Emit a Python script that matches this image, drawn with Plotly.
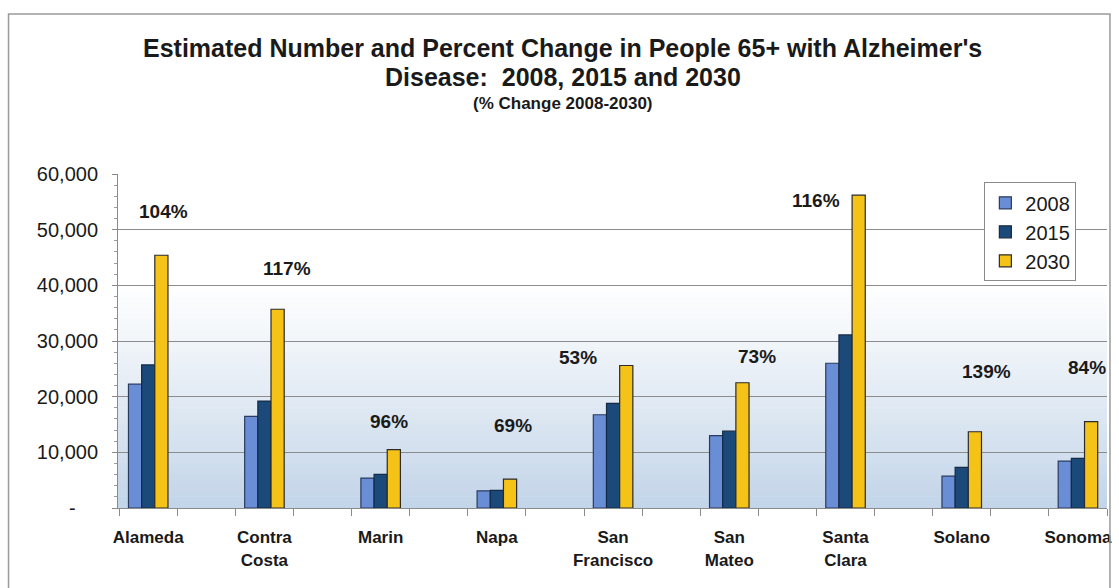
import plotly.graph_objects as go

# County data: estimated people 65+ with Alzheimer's disease
counties = ["Alameda", "Contra<br>Costa", "Marin", "Napa", "San<br>Francisco",
            "San<br>Mateo", "Santa<br>Clara", "Solano", "Sonoma"]
years = ["2008", "2015", "2030"]
cases_2008 = [22250, 16450, 5360, 3080, 16750, 13000, 26000, 5730, 8420]
cases_2015 = [25700, 19200, 6050, 3150, 18800, 13800, 31100, 7300, 8900]
cases_2030 = [45400, 35700, 10500, 5200, 25600, 22500, 56200, 13700, 15500]
pct_change = ["104%", "117%", "96%", "69%", "53%", "73%", "116%", "139%", "84%"]

y_ticks = [0, 10000, 20000, 30000, 40000, 50000, 60000]
y_tick_text = ["-\u00a0\u00a0\u00a0\u00a0", "10,000", "20,000", "30,000",
               "40,000", "50,000", "60,000"]

# where each percent label sits (category units, count units)
label_x = [0.13, 1.19, 2.07, 3.14, 3.70, 5.24, 5.75, 7.21, 8.08]
label_y = [53300, 43000, 15600, 14900, 27000, 27300, 55300, 24600, 25300]

xpos = list(range(len(counties)))
font_family = "Liberation Sans, Arial, sans-serif"

fig = go.Figure()
series = [cases_2008, cases_2015, cases_2030]
colors = ["#6a8ed6", "#1b4a7a", "#f5c218"]
line_colors = ["#2a3a60", "#142a45", "#2b2b2b"]
for name, vals, col, lc in zip(years, series, colors, line_colors):
    fig.add_trace(go.Bar(
        x=xpos, y=vals, name=name,
        marker=dict(color=col, line=dict(color=lc, width=1.2)),
        hoverinfo="x+y",
    ))

# soft vertical gradient behind the plot area (white top, pale blue bottom)
n_strips = 60
top_rgb = (255, 255, 255)
bot_rgb = (194, 212, 232)
for i in range(n_strips):
    y0 = i / n_strips
    y1 = (i + 1) / n_strips
    mid = (y0 + y1) / 2
    # stays white in the top third, then fades to blue
    t = max(0.0, (0.68 - mid) / 0.68)
    t = t ** 1.1
    rgb = tuple(int(round(top_rgb[k] + (bot_rgb[k] - top_rgb[k]) * t)) for k in range(3))
    fig.add_shape(type="rect", xref="x domain", yref="y domain",
                  x0=0, x1=1, y0=y0, y1=y1 + 0.002, layer="below",
                  line=dict(width=0), fillcolor="rgb(%d,%d,%d)" % rgb)

# outer chart frame
fig.add_shape(type="rect", xref="paper", yref="paper",
              x0=-0.1107, x1=1.003, y0=-0.3, y1=1.479,
              line=dict(color="#9a9a9a", width=1.5), fillcolor="rgba(0,0,0,0)")

for tx, ty, txt in zip(label_x, label_y, pct_change):
    fig.add_annotation(x=tx, y=ty, text="<b>%s</b>" % txt, showarrow=False,
                       font=dict(family=font_family, size=19, color="#1a1a1a"))

# titles
title_font = dict(family=font_family, size=25, color="#1a1a1a")
fig.add_annotation(xref="paper", yref="paper", x=0.4497, y=1.377, yanchor="middle",
                   text="<b>Estimated Number and Percent Change in People 65+ with Alzheimer's</b>",
                   showarrow=False, font=title_font)
fig.add_annotation(xref="paper", yref="paper", x=0.4497, y=1.290, yanchor="middle",
                   text="<b>Disease:  2008, 2015 and 2030</b>",
                   showarrow=False, font=title_font)
fig.add_annotation(xref="paper", yref="paper", x=0.4497, y=1.210, yanchor="middle",
                   text="<b>(% Change 2008-2030)</b>",
                   showarrow=False, font=dict(family=font_family, size=17, color="#1a1a1a"))

fig.update_layout(
    width=1119, height=588,
    margin=dict(l=118, r=7, t=174, b=80),
    paper_bgcolor="white", plot_bgcolor="rgba(0,0,0,0)",
    barmode="group", bargap=0.66, bargroupgap=0,
    font=dict(family=font_family, color="#1a1a1a"),
    showlegend=True,
    legend=dict(x=0.876, y=0.975, xanchor="left", yanchor="top",
                bgcolor="white", bordercolor="#8a8a8a", borderwidth=1,
                font=dict(family=font_family, size=20, color="#1a1a1a"),
                tracegroupgap=0),
    xaxis=dict(range=[-0.26, 8.25], tickmode="array", tickvals=xpos,
               ticktext=["<b>%s</b>" % c.replace("<br>", "</b><br><b>") for c in counties],
               ticks="", showgrid=False, zeroline=False,
               showline=True, linecolor="#8a8a8a", linewidth=1,
               ticklabelstandoff=14,
               tickfont=dict(family=font_family, size=17, color="#1a1a1a"),
               minor=dict(tick0=-0.25, dtick=0.5, ticks="outside", ticklen=7,
                          tickcolor="#8a8a8a", showgrid=False)),
    yaxis=dict(range=[0, 60000], tickmode="array", tickvals=y_ticks, ticktext=y_tick_text,
               showgrid=True, gridcolor="#8c8c8c", gridwidth=1, zeroline=False,
               showline=True, linecolor="#8a8a8a", linewidth=1,
               ticks="outside", ticklen=5, tickcolor="#8a8a8a",
               ticklabelstandoff=10,
               tickfont=dict(family=font_family, size=20, color="#1a1a1a"),
               minor=dict(dtick=2000, tick0=0, ticks="outside", ticklen=3,
                          tickcolor="#9a9a9a", showgrid=False)),
)

fig.write_html("out.html")
